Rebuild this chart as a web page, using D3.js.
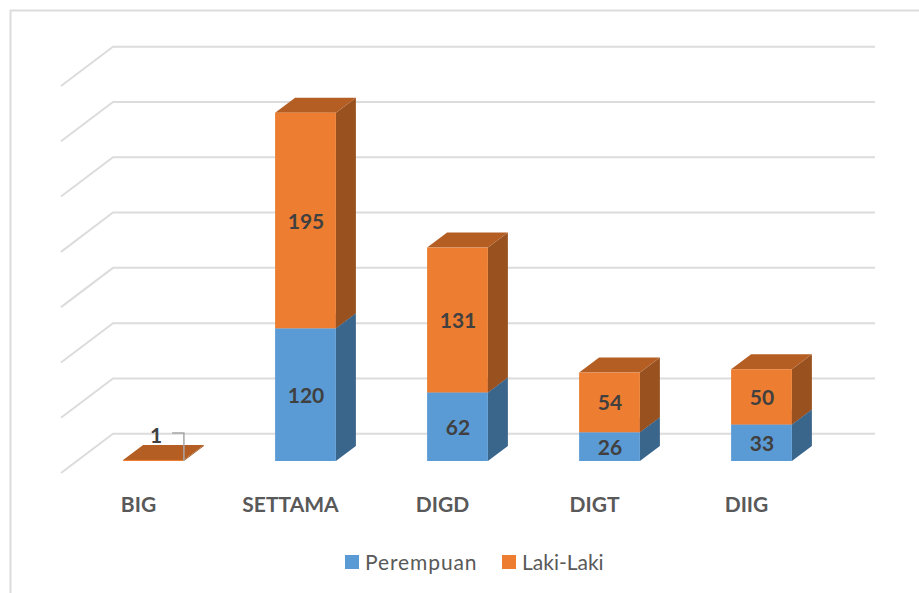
<!DOCTYPE html>
<html>
<head>
<meta charset="utf-8">
<script src="https://cdn.jsdelivr.net/npm/d3@7"></script>
<style>
html, body { margin: 0; padding: 0; background: #fff; }
svg { display: block; }
text { font-family: Lato, "Open Sans", sans-serif; }
</style>
</head>
<body>
<svg id="chart" width="919" height="593"></svg>
<script>
const categories = ["BIG", "SETTAMA", "DIGD", "DIGT", "DIIG"];
const perempuan = [0, 120, 62, 26, 33];
const lakiLaki = [1, 195, 131, 54, 50];
const perempuanLabels = [null, 120, 62, 26, 33];
const gridTicks = [0, 50, 100, 150, 200, 250, 300, 350];
const seriesNames = ["Perempuan", "Laki-Laki"];

const svg = d3.select("#chart");

const colors = {
  Perempuan: { front: "#5b9bd5", side: "#3b668c", top: "#4a7eb0" },
  "Laki-Laki": { front: "#ed7d31", side: "#9a5120", top: "#b45e23" }
};

// Frame around the chart area, open on the right and bottom edges of the page
svg.append("path")
  .attr("d", "M10.5,593V10.5H919")
  .attr("fill", "none").attr("stroke", "#dcdcdc").attr("stroke-width", 2);

const x = d3.scaleBand().domain(categories).range([77.5, 837.5]).paddingInner(0.6).paddingOuter(0.3);
const y = d3.scaleLinear().domain([0, 350]).range([461, 74]);

// Oblique projection offsets
const barDx = 20, barDy = 15;
const wallBack = -27.3, wallFront = 12, wallLeft = 61, wallCorner = 113, wallRight = 875;

// Back wall gridlines with their side-wall returns
svg.append("g").selectAll("path").data(gridTicks).join("path")
  .attr("d", d => {
    const g = y(d);
    return `M${wallLeft},${g + wallFront}L${wallCorner},${g + wallBack}H${wallRight}`;
  })
  .attr("fill", "none").attr("stroke", "#dcdcdc").attr("stroke-width", 2);

// Stacked segments, bottom series first so the upper one overlaps it
const stacked = d3.stack().keys(seriesNames).value((d, k) => d[k])(
  categories.map((c, i) => ({ category: c, Perempuan: perempuan[i], "Laki-Laki": lakiLaki[i] }))
);

const w = x.bandwidth();
stacked.forEach(layer => {
  const c = colors[layer.key];
  const g = svg.append("g");
  layer.forEach(d => {
    if (d[1] === d[0]) return;
    const cat = d.data.category;
    const x0 = x(cat), x1 = x0 + w;
    const yb = y(d[0]), yt = y(d[1]);
    g.append("path")
      .attr("d", `M${x1},${yb}L${x1 + barDx},${yb - barDy}V${yt - barDy}L${x1},${yt}Z`)
      .attr("fill", c.side);
    g.append("path")
      .attr("d", `M${x0},${yt}L${x0 + barDx},${yt - barDy}H${x1 + barDx}L${x1},${yt}Z`)
      .attr("fill", c.top);
    g.append("rect")
      .attr("x", x0).attr("y", yt).attr("width", w).attr("height", Math.max(yb - yt, 1))
      .attr("fill", c.front);
  });
});

// Value labels centred on each front face
const labelStyle = sel => sel
  .attr("text-anchor", "middle").attr("dominant-baseline", "central")
  .attr("font-size", 21).attr("font-weight", 700).attr("fill", "#404040");

categories.forEach((cat, i) => {
  const cx = x(cat) + w / 2;
  if (perempuanLabels[i] !== null) {
    svg.append("text").call(labelStyle)
      .attr("x", cx + 0.5).attr("y", y(perempuan[i] / 2) - 0.5)
      .text(perempuanLabels[i]);
  }
  if (lakiLaki[i] > 1) {
    svg.append("text").call(labelStyle)
      .attr("x", cx + 0.5).attr("y", y(perempuan[i] + lakiLaki[i] / 2) - 0.5)
      .text(lakiLaki[i]);
  }
});

// The one-unit BIG segment is too thin to hold its label, so it gets a leader line
const bigX = x("BIG");
svg.append("text").call(labelStyle)
  .attr("x", bigX + 33).attr("y", y(0) - 26.5).text(lakiLaki[0]);
svg.append("path")
  .attr("d", `M${bigX + 49},${y(0) - 28}H${bigX + w}V${y(0)}`)
  .attr("fill", "none").attr("stroke", "#a6a6a6").attr("stroke-width", 1.5);

// Category labels sit on the floor, left of each bar's centre
svg.append("g").selectAll("text").data(categories).join("text")
  .attr("x", d => x(d) + w / 2 - 15)
  .attr("y", 503)
  .attr("text-anchor", "middle").attr("dominant-baseline", "central")
  .attr("font-size", 21).attr("font-weight", 700).attr("fill", "#595959")
  .text(d => d);

// Legend
const legendItems = [
  { name: seriesNames[0], sx: 345, tx: 365, spacing: 0.9 },
  { name: seriesNames[1], sx: 502, tx: 522, spacing: 0 }
];
const legend = svg.append("g");
legendItems.forEach(it => {
  legend.append("rect").attr("x", it.sx).attr("y", 555).attr("width", 14).attr("height", 14)
    .attr("fill", colors[it.name].front);
  legend.append("text").attr("x", it.tx).attr("y", 561)
    .attr("dominant-baseline", "central")
    .attr("font-size", 21).attr("letter-spacing", it.spacing).attr("fill", "#595959")
    .text(it.name);
});
</script>
</body>
</html>
